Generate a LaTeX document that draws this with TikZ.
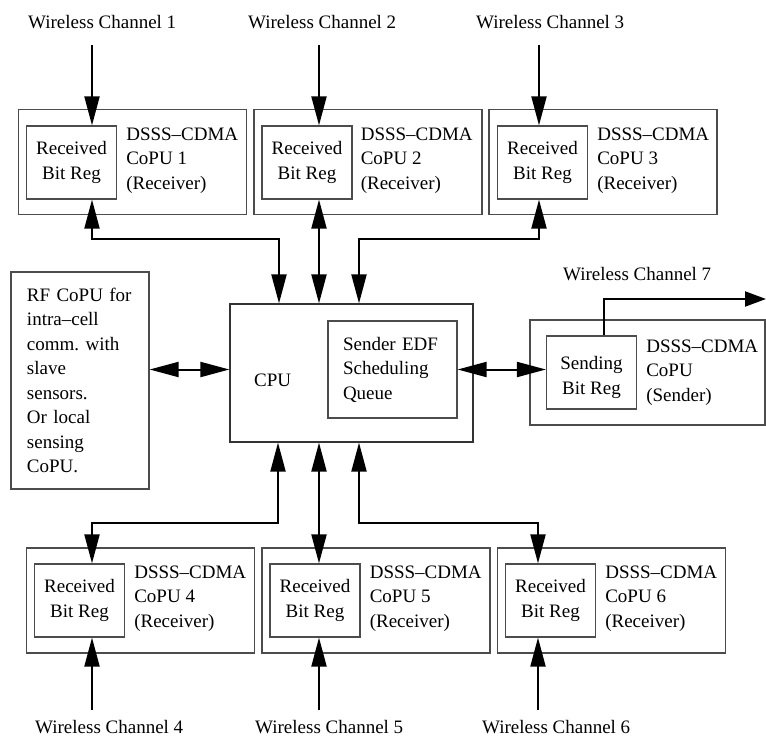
\documentclass[tikz,border=0pt]{standalone}
\usepackage{fontspec}
\setmainfont{Liberation Serif}
\usetikzlibrary{arrows.meta,positioning}

\begin{document}
\begin{tikzpicture}[x=1pt,y=-1pt,
	font=\fontsize{19}{24.5}\selectfont,
	copu/.style={draw=black!70,line width=1.2pt,minimum width=228pt,minimum height=105pt,inner sep=0},
	reg/.style={draw=black!70,line width=1.2pt,minimum width=90pt,minimum height=73pt,align=center,inner sep=0},
	info/.style={align=left,inner sep=0,anchor=west},
	chan/.style={inner sep=0,anchor=base west},
	arr/.style={line width=2pt,-{Triangle[length=29pt,width=15pt]}},
	darr/.style={line width=2pt,{Triangle[length=29pt,width=15pt]}-{Triangle[length=29pt,width=15pt]}},
]
\useasboundingbox (0,0) rectangle (766,736);

% receivers on top
\node[copu] (o1) at (132.5,162) {};
\node[reg] (r1) at (71.5,162.5) {Received\\Bit Reg};
\node[info] (t1) at ([xshift=9pt,yshift=2pt]r1.east) {DSSS--CDMA\\CoPU 1\\(Receiver)};
\node[copu] (o2) at (368,162) {};
\node[reg] (r2) at (307,162.5) {Received\\Bit Reg};
\node[info] (t2) at ([xshift=8pt,yshift=2pt]r2.east) {DSSS--CDMA\\CoPU 2\\(Receiver)};
\node[copu] (o3) at (603,162) {};
\node[reg] (r3) at (542.5,162.5) {Received\\Bit Reg};
\node[info] (t3) at ([xshift=9pt,yshift=2pt]r3.east) {DSSS--CDMA\\CoPU 3\\(Receiver)};

\node[chan] (ch1) at (28,28) {Wireless Channel 1};
\node[chan] (ch2) at (248,28) {Wireless Channel 2};
\node[chan] (ch3) at (476,28) {Wireless Channel 3};

% middle row
\node[draw=black!70,line width=1.2pt,minimum height=217pt,text width=106pt,inner xsep=16pt,align=left] (rf) at (80,380.5)
	{RF CoPU for\\intra--cell\\comm.\ with\\slave\\sensors.\\Or local\\sensing\\CoPU.};
\node[draw=black!80,line width=1.2pt,minimum width=243pt,minimum height=138pt] (cpu) at (351.5,373) {};
\node[chan] (cputxt) at (254,386) {CPU};
\node[reg,align=left,text width=99pt,inner xsep=15pt,minimum height=97pt] (queue) at (392.5,369.5) {Sender EDF\\Scheduling\\Queue};

\node[copu,minimum width=235pt] (o7) at (647.5,372.5) {};
\node[reg] (s7) at (591.5,372.5) {\rule{0pt}{23pt}Sending\\Bit Reg};
\node[info] (t7) at ([xshift=9pt]s7.east) {DSSS--CDMA\\CoPU\\(Sender)};
\node[chan] (ch7) at (563,280) {Wireless Channel 7};

% receivers at the bottom
\node[copu] (o4) at (140.5,600.5) {};
\node[reg] (r4) at (79.5,600.5) {Received\\Bit Reg};
\node[info] (t4) at ([xshift=9pt,yshift=2pt]r4.east) {DSSS--CDMA\\CoPU 4\\(Receiver)};
\node[copu] (o5) at (376,600.5) {};
\node[reg] (r5) at (315,600.5) {Received\\Bit Reg};
\node[info] (t5) at ([xshift=9pt,yshift=2pt]r5.east) {DSSS--CDMA\\CoPU 5\\(Receiver)};
\node[copu] (o6) at (611.5,600.5) {};
\node[reg] (r6) at (550.5,600.5) {Received\\Bit Reg};
\node[info] (t6) at ([xshift=9pt,yshift=2pt]r6.east) {DSSS--CDMA\\CoPU 6\\(Receiver)};

\node[chan] (ch4) at (35,733) {Wireless Channel 4};
\node[chan] (ch5) at (255,733) {Wireless Channel 5};
\node[chan] (ch6) at (482,733) {Wireless Channel 6};

% points where the lines go in and bend
\coordinate (k1) at ([xshift=-72.5pt]cpu.north);
\coordinate (k2) at ([xshift=-32.5pt]cpu.north);
\coordinate (k3) at ([xshift=7.5pt]cpu.north);
\coordinate (m1) at ([xshift=-73.5pt]cpu.south);
\coordinate (m2) at ([xshift=-32.5pt]cpu.south);
\coordinate (m3) at ([xshift=7.5pt]cpu.south);
\coordinate (a1) at (92,239);
\coordinate (a3) at (539,239);
\coordinate (d4) at (92,523);
\coordinate (d6) at (538,523);
\coordinate (w1) at (92,45);
\coordinate (w2) at (319,45);
\coordinate (w3) at (539,45);
\coordinate (w4) at (92,710);
\coordinate (w5) at (319,710);
\coordinate (w6) at (538,710);
\coordinate (c7) at (604,299);
\coordinate (c7end) at (766,299);

\draw[arr] (w1) -- (w1 |- r1.north);
\draw[arr] (w2) -- (w2 |- r2.north);
\draw[arr] (w3) -- (w3 |- r3.north);
\draw[arr] (w4) -- (w4 |- r4.south);
\draw[arr] (w5) -- (w5 |- r5.south);
\draw[arr] (w6) -- (w6 |- r6.south);

\draw[darr] (r1.south -| a1) -- (a1) -| (k1);
\draw[darr] (r2.south -| k2) -- (k2);
\draw[darr] (r3.south -| a3) -- (a3) -| (k3);
\draw[darr] (m1) |- (d4) -- (r4.north -| d4);
\draw[darr] (m2) -- (r5.north -| m2);
\draw[darr] (m3) |- (d6) -- (r6.north -| d6);

\draw[darr] (rf.east |- queue) -- (cpu.west |- queue);
\draw[darr] (queue.east) -- (s7.west |- queue.east);
\draw[line width=2pt,-{Triangle[length=21pt,width=15pt]}] (c7 |- s7.north) -- (c7) -- (c7end);

\end{tikzpicture}
\end{document}
